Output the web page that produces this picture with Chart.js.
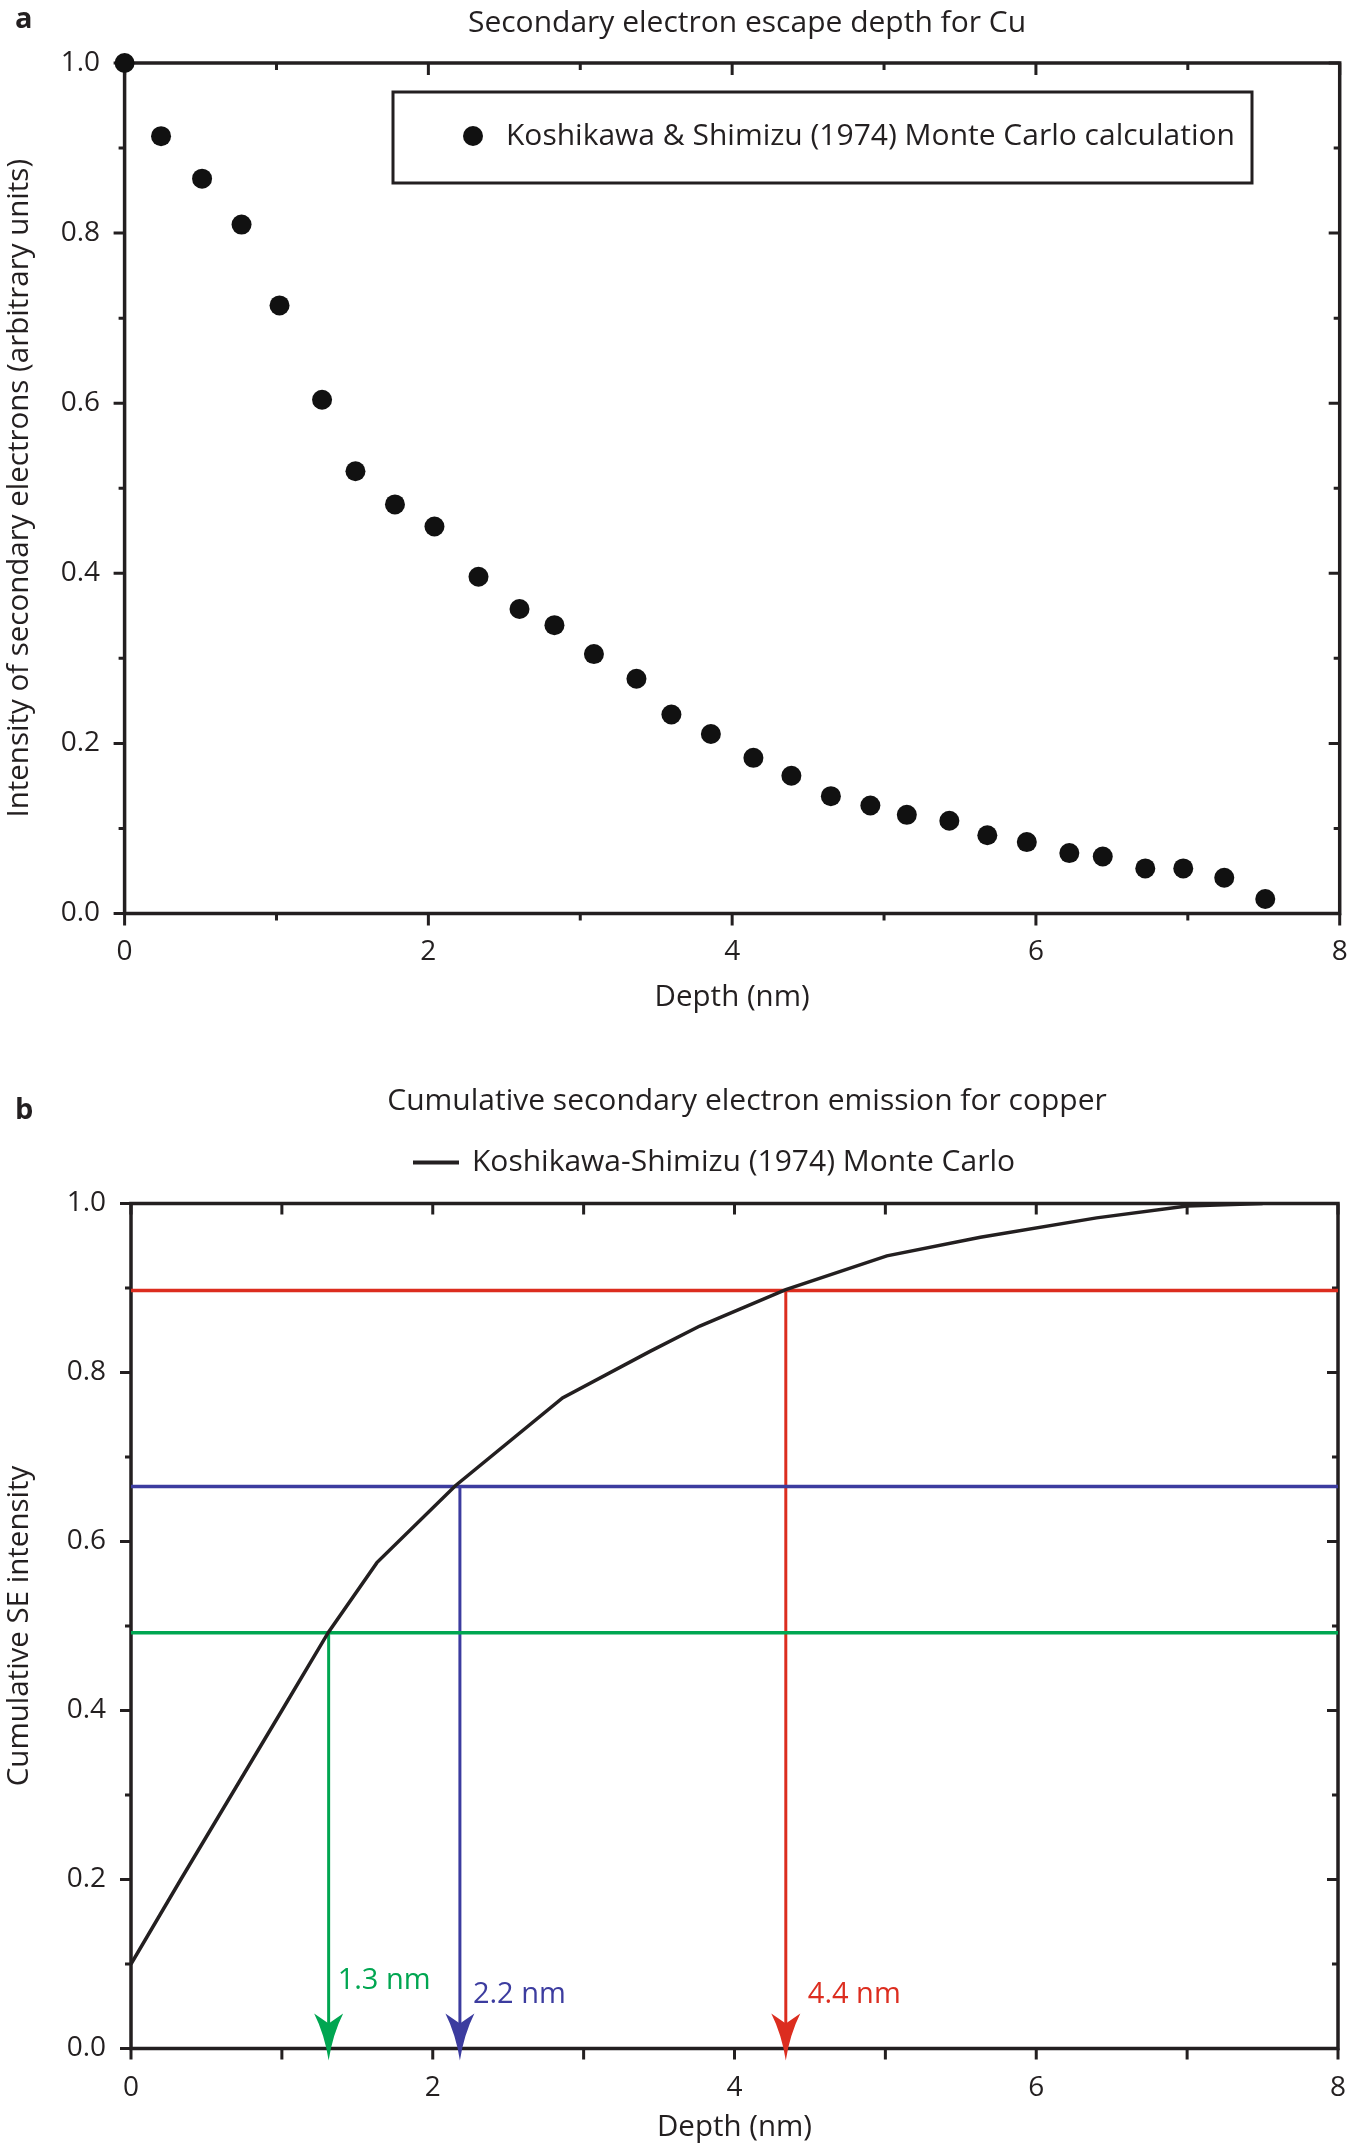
<!DOCTYPE html>
<html>
<head>
<meta charset="utf-8">
<script src="https://cdn.jsdelivr.net/npm/chart.js@4.4.1/dist/chart.umd.min.js"></script>
<style>
  body { margin: 0; background: #fff; }
  #panelA { position: absolute; left: 0; top: 0; }
  #panelB { position: absolute; left: 0; top: 1050px; }
</style>
</head>
<body>
<canvas id="panelA" width="1352" height="1050"></canvas>
<canvas id="panelB" width="1352" height="1097"></canvas>
<script>
// panel a: Koshikawa & Shimizu (1974) escape depth points
const depthA = [0, 0.24, 0.51, 0.77, 1.02, 1.30, 1.52, 1.78, 2.04, 2.33, 2.60, 2.83, 3.09, 3.37, 3.60,
                3.86, 4.14, 4.39, 4.65, 4.91, 5.15, 5.43, 5.68, 5.94, 6.22, 6.44, 6.72, 6.97, 7.24, 7.51];
const intensityA = [1.0, 0.914, 0.864, 0.810, 0.715, 0.604, 0.520, 0.481, 0.455, 0.396, 0.358, 0.339, 0.305, 0.276, 0.234,
                    0.211, 0.183, 0.162, 0.138, 0.127, 0.116, 0.109, 0.092, 0.084, 0.071, 0.067, 0.053, 0.053, 0.042, 0.017];

// panel b: cumulative curve
const depthB = [0, 0.33, 1.0, 1.31, 1.63, 2.15, 2.86, 3.44, 3.77, 4.34, 5.01, 5.63, 6.40, 7.00, 7.50];
const cumulativeB = [0.100, 0.200, 0.400, 0.493, 0.575, 0.666, 0.770, 0.825, 0.855, 0.898, 0.938, 0.960, 0.983, 0.997, 1.000];

// escape depth read-offs (level reached, depth, label)
const markerLevel = [0.492, 0.665, 0.897];
const markerDepth = [1.31, 2.18, 4.34];
const markerLabels = ["1.3 nm", "2.2 nm", "4.4 nm"];

// tick labels
const xTickLabels = [0, 2, 4, 6, 8];
const yTickLabels = [0, 0.2, 0.4, 0.6, 0.8, 1.0];

const ink = "#231f20";
const markerColors = ["#00a651", "#3c3c9f", "#dc2d1f"];
const labelDx = [9, 13, 22];
const labelDy = [-68, -54, -54];
const textFont = "30px 'Open Sans'";

Chart.defaults.font.family = "'Open Sans'";
Chart.defaults.color = ink;

function isLabelled(list, v) {
  return list.some(t => Math.abs(t - v) < 1e-6);
}

// box round the plot, ticks out on left/bottom and in on top/right
const frameTicks = {
  id: "frameTicks",
  beforeDatasetsDraw(chart, args, opts) {
    const { ctx, chartArea: a, scales: { x, y } } = chart;
    ctx.save();
    ctx.strokeStyle = ink;
    ctx.lineWidth = 3;
    ctx.beginPath();
    x.ticks.forEach(t => {
      const px = x.getPixelForValue(t.value);
      const len = t.label ? opts.xMajor : opts.xMinor;
      ctx.moveTo(px, a.bottom); ctx.lineTo(px, a.bottom + len);
      ctx.moveTo(px, a.top); ctx.lineTo(px, a.top + len);
    });
    y.ticks.forEach(t => {
      const py = y.getPixelForValue(t.value);
      const len = t.label ? opts.yMajor : opts.yMinor;
      ctx.moveTo(a.left, py); ctx.lineTo(a.left - len, py);
      ctx.moveTo(a.right, py); ctx.lineTo(a.right - len, py);
    });
    ctx.stroke();
    ctx.lineWidth = 3.5;
    ctx.lineJoin = "miter";
    ctx.strokeRect(a.left, a.top, a.right - a.left, a.bottom - a.top);
    ctx.restore();
  }
};

function axes(yWidth, xHeight, yTitle, yPad, xPad, xTitlePad, yTitlePad) {
  return {
    x: {
      type: "linear", min: 0, max: 8,
      afterFit: s => { s.height = xHeight; s.paddingLeft = 0; s.paddingRight = 0; },
      grid: { display: false, drawTicks: false },
      border: { display: false },
      ticks: {
        stepSize: 1, autoSkip: false, maxRotation: 0, padding: xPad,
        font: { size: 28 },
        callback: v => isLabelled(xTickLabels, v) ? String(v) : ""
      },
      title: { display: true, text: "Depth (nm)", font: { size: 29.5 }, padding: { top: 0, bottom: xTitlePad } }
    },
    y: {
      type: "linear", min: 0, max: 1,
      afterFit: s => { s.width = yWidth; s.paddingTop = 0; s.paddingBottom = 0; },
      grid: { display: false, drawTicks: false },
      border: { display: false },
      ticks: {
        stepSize: 0.1, autoSkip: false, padding: yPad,
        font: { size: 28 },
        callback: v => isLabelled(yTickLabels, v) ? v.toFixed(1) : ""
      },
      title: { display: true, text: yTitle, font: { size: 29.5 }, padding: { top: yTitlePad, bottom: 0 } }
    }
  };
}

// ---------- panel a ----------
const textA = {
  id: "textA",
  afterDraw(chart) {
    const ctx = chart.ctx;
    ctx.save();
    ctx.fillStyle = ink;
    ctx.font = "bold 29px 'Open Sans'";
    ctx.textBaseline = "alphabetic";
    ctx.fillText("a", 15, 28);
    ctx.font = textFont;
    ctx.textAlign = "center";
    ctx.fillText("Secondary electron escape depth for Cu", 747, 32);

    // legend box
    ctx.strokeStyle = ink;
    ctx.lineWidth = 3;
    ctx.strokeRect(393, 92, 859, 91);
    ctx.beginPath();
    ctx.arc(473, 136, 10, 0, Math.PI * 2);
    ctx.fillStyle = "#111";
    ctx.fill();
    ctx.fillStyle = ink;
    ctx.textAlign = "left";
    ctx.textBaseline = "middle";
    ctx.fillText("Koshikawa & Shimizu (1974) Monte Carlo calculation", 506, 136);
    ctx.restore();
  }
};

new Chart(document.getElementById("panelA"), {
  type: "scatter",
  data: {
    datasets: [{
      label: "Koshikawa & Shimizu (1974) Monte Carlo calculation",
      data: depthA.map((d, i) => ({ x: d, y: intensityA[i] })),
      pointRadius: 10,
      pointBackgroundColor: "#111",
      pointBorderWidth: 0,
      clip: false
    }]
  },
  options: {
    responsive: false,
    animation: false,
    layout: { padding: { left: 0, right: 12.3, top: 63, bottom: 0 } },
    plugins: {
      legend: { display: false },
      tooltip: { enabled: false },
      frameTicks: { xMajor: 12, xMinor: 7, yMajor: 11, yMinor: 6 }
    },
    scales: axes(124.6, 136.5, "Intensity of secondary electrons (arbitrary units)", 24.6, 22, 35, 2)
  },
  plugins: [frameTicks, textA]
});

// ---------- panel b ----------
const textB = {
  id: "textB",
  afterDatasetsDraw(chart) {
    const { ctx, scales: { x, y } } = chart;
    ctx.save();
    markerDepth.forEach((d, i) => {
      const px = x.getPixelForValue(d);
      const py = y.getPixelForValue(0);
      ctx.fillStyle = markerColors[i];
      ctx.beginPath();
      ctx.moveTo(px, py + 12);
      ctx.quadraticCurveTo(px - 4, py - 14, px - 14.5, py - 35);
      ctx.lineTo(px, py - 25);
      ctx.lineTo(px + 14.5, py - 35);
      ctx.quadraticCurveTo(px + 4, py - 14, px, py + 12);
      ctx.closePath();
      ctx.fill();
      ctx.font = "29px 'Open Sans'";
      ctx.textBaseline = "middle";
      ctx.textAlign = "left";
      ctx.fillText(markerLabels[i], px + labelDx[i], py + labelDy[i]);
    });
    ctx.restore();
  },
  afterDraw(chart) {
    const ctx = chart.ctx;
    ctx.save();
    ctx.fillStyle = ink;
    ctx.font = "bold 29px 'Open Sans'";
    ctx.textBaseline = "alphabetic";
    ctx.fillText("b", 15, 69);
    ctx.font = textFont;
    ctx.textAlign = "center";
    ctx.fillText("Cumulative secondary electron emission for copper", 747, 60);

    ctx.strokeStyle = ink;
    ctx.lineWidth = 4;
    ctx.beginPath();
    ctx.moveTo(413, 112.5);
    ctx.lineTo(459, 112.5);
    ctx.stroke();
    ctx.textAlign = "left";
    ctx.textBaseline = "middle";
    ctx.fillText("Koshikawa-Shimizu (1974) Monte Carlo", 472, 112);
    ctx.restore();
  }
};

const levelLines = markerLevel.map((lv, i) => ({
  label: "level " + markerLabels[i],
  data: [{ x: 0, y: lv }, { x: 8, y: lv }],
  borderColor: markerColors[i],
  borderWidth: 3.5,
  pointRadius: 0
}));
const dropLines = markerLevel.map((lv, i) => ({
  label: "depth " + markerLabels[i],
  data: [{ x: markerDepth[i], y: lv }, { x: markerDepth[i], y: 0 }],
  borderColor: markerColors[i],
  borderWidth: 3,
  pointRadius: 0
}));

new Chart(document.getElementById("panelB"), {
  type: "line",
  data: {
    datasets: [{
      label: "Koshikawa-Shimizu (1974) Monte Carlo",
      data: depthB.map((d, i) => ({ x: d, y: cumulativeB[i] })),
      borderColor: ink,
      borderWidth: 3.5,
      pointRadius: 0,
      tension: 0
    }].concat(levelLines, dropLines)
  },
  options: {
    responsive: false,
    animation: false,
    layout: { padding: { left: 0, right: 14, top: 153.5, bottom: 0 } },
    plugins: {
      legend: { display: false },
      tooltip: { enabled: false },
      frameTicks: { xMajor: 11, xMinor: 11, yMajor: 11, yMinor: 6 }
    },
    scales: axes(131, 98.5, "Cumulative SE intensity", 25, 22.4, 2, 2)
  },
  plugins: [frameTicks, textB]
});
</script>
</body>
</html>
